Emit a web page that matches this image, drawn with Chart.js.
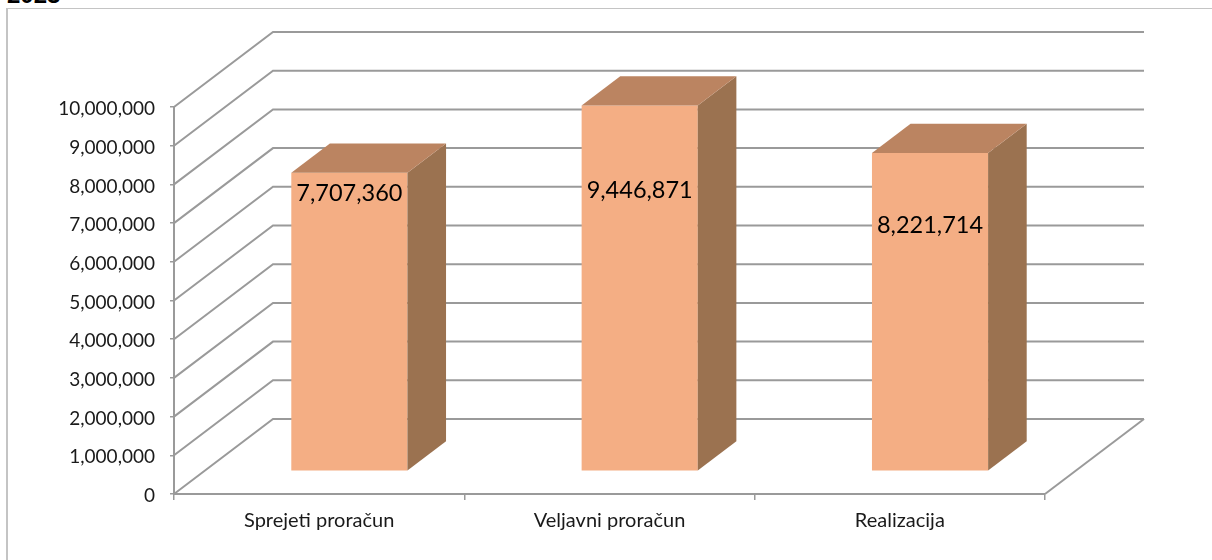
<!DOCTYPE html>
<html>
<head>
<meta charset="utf-8">
<script src="https://cdn.jsdelivr.net/npm/chart.js@4/dist/chart.umd.js"></script>
<style>
  html, body { margin: 0; padding: 0; background: #fff; overflow: hidden; }
  #wrap { position: relative; width: 1212px; height: 560px; overflow: hidden; }
  #box { position: absolute; left: 6px; top: 8px; width: 1300px; height: 700px; border: 1px solid #c4c4c4; border-left-width: 2px; }
  #yearText { position: absolute; left: 7px; top: -19px; font: bold 24px "Liberation Sans", sans-serif; color: #000; }
  canvas { position: absolute; left: 0; top: 0; }
</style>
</head>
<body>
<div id="wrap">
  <div id="box"></div>
  <div id="yearText">2023</div>
  <canvas id="budgetChart" width="1212" height="560"></canvas>
</div>
<script>
(function () {
  "use strict";

  // data
  var categories = ["Sprejeti proračun", "Veljavni proračun", "Realizacija"];
  var seriesValues = [7707360, 9446871, 8221714];
  var seriesLabels = ["7,707,360", "9,446,871", "8,221,714"];
  var yTickLabels = ["0", "1,000,000", "2,000,000", "3,000,000", "4,000,000", "5,000,000",
    "6,000,000", "7,000,000", "8,000,000", "9,000,000", "10,000,000"];

  // 3D look
  var DEPTH_X = 99;
  var DEPTH_Y = 75;
  var GAP_DEPTH = 0.305; // space in front of the bar, as part of the floor depth
  var BAR_DEPTH = 0.39;
  var LABEL_DROP = [21, 85, 72]; // label sits this far below the top of its bar
  var Y_LABEL_SHIFT = 2;

  var LINE_COLOR = "#9a9a9a";
  var TEXT_COLOR = "#1a1a1a";
  var FRONT_COLOR = "#f4ae84";
  var SIDE_COLOR = "#9b7250";
  var TOP_COLOR = "#bb8461";
  var FONT = "Lato, 'Noto Sans', sans-serif";

  function poly(ctx, pts, color) {
    ctx.fillStyle = color;
    ctx.beginPath();
    ctx.moveTo(pts[0][0], pts[0][1]);
    for (var i = 1; i < pts.length; i++) ctx.lineTo(pts[i][0], pts[i][1]);
    ctx.closePath();
    ctx.fill();
  }

  function seg(ctx, pts) {
    ctx.beginPath();
    ctx.moveTo(pts[0][0], pts[0][1]);
    for (var i = 1; i < pts.length; i++) ctx.lineTo(pts[i][0], pts[i][1]);
    ctx.stroke();
  }

  var walls3d = {
    id: "walls3d",
    // y tick labels sit a little lower than the tick in the original
    beforeDraw: function (chart) {
      chart.scales.y.getLabelItems().forEach(function (item) {
        item.textOffset += Y_LABEL_SHIFT;
      });
    },
    // back wall + side wall, taken from the y scale
    beforeDatasetsDraw: function (chart) {
      var ctx = chart.ctx;
      var y = chart.scales.y;
      var area = chart.chartArea;
      ctx.save();
      ctx.strokeStyle = LINE_COLOR;
      ctx.lineWidth = 2;
      y.ticks.forEach(function (t) {
        var py = y.getPixelForValue(t.value);
        seg(ctx, [[area.left, py], [area.left + DEPTH_X, py - DEPTH_Y], [area.right + DEPTH_X, py - DEPTH_Y]]);
      });
      var base = y.getPixelForValue(0);
      seg(ctx, [[area.right, base], [area.right + DEPTH_X, base - DEPTH_Y]]);
      ctx.restore();
    },
    // push the front face back on the floor
    beforeDatasetDraw: function (chart) {
      chart.ctx.save();
      chart.ctx.translate(DEPTH_X * GAP_DEPTH, -DEPTH_Y * GAP_DEPTH);
    },
    afterDatasetDraw: function (chart) {
      var ctx = chart.ctx;
      var dx = DEPTH_X * BAR_DEPTH;
      var dy = DEPTH_Y * BAR_DEPTH;
      chart.getDatasetMeta(0).data.forEach(function (bar) {
        var l = bar.x - bar.width / 2;
        var r = bar.x + bar.width / 2;
        poly(ctx, [[r, bar.y], [r + dx, bar.y - dy], [r + dx, bar.base - dy], [r, bar.base]], SIDE_COLOR);
        poly(ctx, [[l, bar.y], [l + dx, bar.y - dy], [r + dx, bar.y - dy], [r, bar.y]], TOP_COLOR);
      });
      ctx.restore();
    },
    afterDatasetsDraw: function (chart) {
      var ctx = chart.ctx;
      ctx.save();
      ctx.font = "23.5px " + FONT;
      ctx.fillStyle = "#000";
      ctx.textAlign = "center";
      ctx.textBaseline = "middle";
      chart.getDatasetMeta(0).data.forEach(function (bar, i) {
        ctx.fillText(seriesLabels[i], bar.x + DEPTH_X * GAP_DEPTH, bar.y - DEPTH_Y * GAP_DEPTH + LABEL_DROP[i]);
      });
      ctx.restore();
    },
  };

  new Chart(document.getElementById("budgetChart").getContext("2d"), {
    type: "bar",
    data: {
      labels: categories,
      datasets: [
        {
          data: seriesValues,
          backgroundColor: FRONT_COLOR,
          categoryPercentage: 1,
          barPercentage: 0.4,
          borderWidth: 0,
        },
      ],
    },
    options: {
      responsive: false,
      animation: false,
      layout: { padding: { left: 0, right: 167, top: 107, bottom: 0 } },
      plugins: { legend: { display: false }, title: { display: false }, tooltip: { enabled: false } },
      scales: {
        x: {
          afterFit: function (scale) { scale.height = 66; },
          border: { color: LINE_COLOR, width: 2 },
          grid: { drawOnChartArea: false, color: LINE_COLOR, tickLength: 6, lineWidth: 1.5, offset: true },
          ticks: { color: TEXT_COLOR, font: { family: FONT, size: 20 }, padding: 9, maxRotation: 0 },
        },
        y: {
          min: 0,
          max: 10000000,
          afterFit: function (scale) { scale.width = 174; },
          border: { color: LINE_COLOR, width: 2 },
          grid: { drawOnChartArea: false, color: LINE_COLOR, tickLength: 4, lineWidth: 1.5 },
          ticks: {
            stepSize: 1000000,
            color: TEXT_COLOR,
            font: { family: FONT, size: 19 },
            padding: 15,
            callback: function (val, idx) {
              return yTickLabels[idx];
            },
          },
        },
      },
    },
    plugins: [walls3d],
  });
})();
</script>
</body>
</html>
